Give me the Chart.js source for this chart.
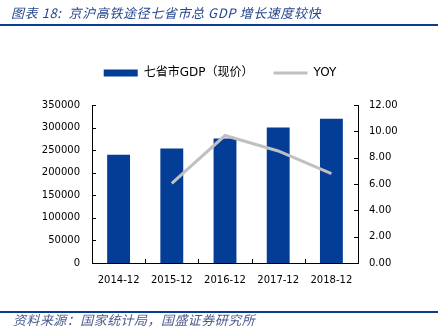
<!DOCTYPE html>
<html>
<head>
<meta charset="utf-8">
<script src="https://cdn.jsdelivr.net/npm/chart.js@4"></script>
<style>
  html, body { margin: 0; padding: 0; background: #fff; }
  #wrap { position: relative; width: 443px; height: 330px; overflow: hidden; }
  #c { position: absolute; left: 0; top: 0; }
  .title { position: absolute; left: 11px; top: 3px; font: italic 13px "Noto Sans CJK SC", sans-serif; letter-spacing: 0.6px; color: #25468f; white-space: nowrap; }
  .rule { position: absolute; left: 0; width: 438px; height: 2px; background: #0a3d91; }
  .foot { position: absolute; left: 13px; top: 310px; font: italic 13px "Noto Sans CJK SC", sans-serif; letter-spacing: 0.45px; color: #4b5b8c; white-space: nowrap; }
</style>
</head>
<body>
<div id="wrap">
  <canvas id="c" width="443" height="330"></canvas>
  <div class="title">图表 18:&nbsp; 京沪高铁途径七省市总 GDP 增长速度较快</div>
  <div class="rule" style="top:24px"></div>
  <div class="rule" style="top:311px"></div>
  <div class="foot">资料来源：国家统计局，国盛证券研究所</div>
</div>
<script>
var years = ['2014-12', '2015-12', '2016-12', '2017-12', '2018-12'];
var gdp = [240000, 253500, 276000, 300000, 319500];
var yoy = [null, 6.04, 9.68, 8.51, 6.78];
var gdpTicks = [0, 50000, 100000, 150000, 200000, 250000, 300000, 350000];
var yoyTicks = [0, 2, 4, 6, 8, 10, 12];

var blue = '#033d96';
var gray = '#c0c0c0';
var tickFont = { family: 'DejaVu Sans', size: 10 };

// short tick marks pointing into the plot area
var innerTicks = {
  id: 'innerTicks',
  beforeLayout: function(chart) {
    // extra gap under the legend
    var lg = chart.legend;
    if (lg && !lg._gap) {
      var fit = lg.fit;
      lg.fit = function() { fit.call(this); this.height += 16; };
      lg._gap = true;
    }
  },
  afterDraw: function(chart) {
    var c = chart.ctx, a = chart.chartArea;
    var yl = chart.scales.y, yr = chart.scales.y1;
    c.save();
    c.strokeStyle = '#000';
    c.lineWidth = 1;
    c.beginPath();
    yl.ticks.forEach(function(t, i) {
      var p = Math.round(yl.getPixelForTick(i)) + 0.5;
      c.moveTo(a.left, p); c.lineTo(a.left + 4, p);
    });
    yr.ticks.forEach(function(t, i) {
      var p = Math.round(yr.getPixelForTick(i)) + 0.5;
      c.moveTo(a.right, p); c.lineTo(a.right - 4, p);
    });
    var w = (a.right - a.left) / years.length;
    for (var i = 1; i < years.length; i++) {
      var px = Math.round(a.left + i * w) + 0.5;
      c.moveTo(px, a.bottom); c.lineTo(px, a.bottom - 4);
    }
    c.stroke();
    c.restore();
  }
};

new Chart(document.getElementById('c').getContext('2d'), {
  type: 'bar',
  data: {
    labels: years,
    datasets: [{
      label: '七省市GDP（现价）',
      data: gdp,
      backgroundColor: blue,
      borderWidth: 0,
      barPercentage: 0.43,
      categoryPercentage: 1,
      yAxisID: 'y',
      order: 2
    }, {
      type: 'line',
      label: 'YOY',
      data: yoy,
      borderColor: gray,
      backgroundColor: gray,
      borderWidth: 3,
      pointRadius: 0,
      tension: 0,
      yAxisID: 'y1',
      order: 1
    }]
  },
  plugins: [innerTicks],
  options: {
    responsive: false,
    animation: false,
    layout: { padding: { top: 47, left: 42, right: 45, bottom: 33 } },
    plugins: {
      tooltip: { enabled: false },
      legend: {
        labels: {
          usePointStyle: true,
          pointStyleWidth: 34,
          boxHeight: 7,
          padding: 20,
          color: '#000',
          font: { family: 'DejaVu Sans, Noto Sans CJK SC', size: 12 },
          generateLabels: function(chart) {
            var items = Chart.defaults.plugins.legend.labels.generateLabels(chart);
            items.sort(function(p, q) { return p.datasetIndex - q.datasetIndex; });
            items.forEach(function(it) {
              if (it.datasetIndex === 0) {
                it.pointStyle = 'rect';
                it.lineWidth = 0;
                it.fillStyle = blue;
              } else {
                it.pointStyle = 'line';
                it.lineWidth = 3;
                it.strokeStyle = gray;
              }
            });
            return items;
          }
        }
      }
    },
    scales: {
      x: {
        offset: true,
        grid: { display: false, drawTicks: false },
        border: { display: true, color: '#000', width: 1 },
        ticks: { color: '#000', font: tickFont, padding: 11, maxRotation: 0 }
      },
      y: {
        position: 'left',
        min: 0, max: 350000,
        afterBuildTicks: function(s) { s.ticks = gdpTicks.map(function(v) { return { value: v }; }); },
        afterFit: function(s) { s.width = 50; },
        grid: { display: false, drawTicks: false },
        border: { display: true, color: '#000', width: 1 },
        ticks: { color: '#000', font: tickFont, padding: 12,
          callback: function(v) { return String(v); } }
      },
      y1: {
        position: 'right',
        min: 0, max: 12,
        afterBuildTicks: function(s) { s.ticks = yoyTicks.map(function(v) { return { value: v }; }); },
        afterFit: function(s) { s.width = 40; },
        grid: { display: false, drawTicks: false },
        border: { display: true, color: '#000', width: 1 },
        ticks: { color: '#000', font: tickFont, padding: 11,
          callback: function(v) { return Number(v).toFixed(2); } }
      }
    }
  }
});
</script>
</body>
</html>
